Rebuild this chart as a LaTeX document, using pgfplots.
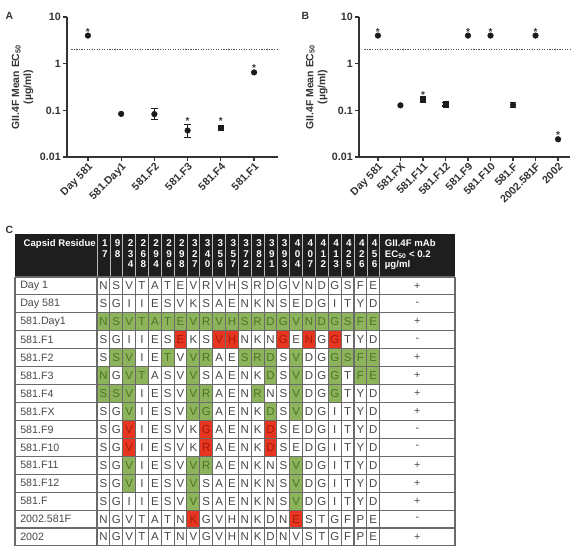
\documentclass[border=0pt]{standalone}
\usepackage{fontspec}
\setmainfont{Liberation Sans}
\usepackage{pgfplots}
\pgfplotsset{compat=1.18}
\definecolor{hdr}{HTML}{1E1E1E}
\definecolor{gfill}{HTML}{8DB35B}
\definecolor{gtext}{HTML}{4A7528}
\definecolor{rfill}{HTML}{E8351F}
\definecolor{rtext}{HTML}{A31C0E}
\definecolor{ctext}{HTML}{474747}
\definecolor{gridc}{HTML}{6A6A6A}
\definecolor{axc}{HTML}{333333}
\definecolor{mk}{HTML}{1C1C1C}
\newcommand{\tickfont}{\bfseries\fontsize{8}{9}\selectfont}
\tikzset{
  cellw/.style={text=ctext},
  cellg/.style={fill=gfill, text=gtext},
  cellr/.style={fill=rfill, text=rtext},
}
\begin{document}
\begin{tikzpicture}
\path[use as bounding box] (0,0) rectangle (429pt,-410.25pt);

% ---------- Panel A ----------
\begin{axis}[
    at={(50.25pt,-117.75pt)}, anchor=south west,
    scale only axis, width=158.25pt, height=105pt,
    ymode=log, ymin=0.01, ymax=10,
    ytick={0.01,0.1,1,10}, yticklabels={0.01,0.1,1,10},
    yminorticks=false,
    axis x line*=bottom, axis y line*=left,
    axis line style={-, axc, line width=0.9pt},
    tick style={axc, line width=0.9pt},
    tick align=outside, major tick length=3pt,
    xticklabel style={rotate=45, anchor=north east, inner sep=0.5pt, font=\tickfont, text=axc},
    yticklabel style={font=\tickfont, text=axc, inner sep=1.5pt},
    ylabel={GII.4F Mean EC\textsubscript{50}\\(µg/ml)},
    ylabel style={at={(axis description cs:-0.21,0.5)}, anchor=center, align=center, font=\bfseries\fontsize{7.8}{9}\selectfont, text=axc},
    clip=false,
    xmin=-0.63, xmax=5.72,
    xtick={0,...,5}, xticklabels={Day 581,581.Day1,581.F2,581.F3,581.F4,581.F1}]
\addplot[densely dotted, line width=0.9pt, color=axc!85, forget plot] coordinates {(-0.5,2) (5.72,2)};
\addplot[only marks, mark=*, mark size=2.1pt, color=mk] coordinates {(0,4) (1,0.084) (5,0.65)};
\addplot[only marks, mark=*, mark size=2.1pt, color=mk,
  error bars/y dir=both, error bars/y explicit,
  error bars/error bar style={line width=0.8pt, mk},
  error bars/error mark options={rotate=90, mark size=2.5pt, line width=0.8pt, mk}]
  coordinates {(2,0.083) += (0,0.027) -= (0,0.018) (3,0.037) += (0,0.012) -= (0,0.011)};
\addplot[only marks, mark=square*, mark size=2pt, color=mk,
  error bars/y dir=both, error bars/y explicit,
  error bars/error bar style={line width=0.8pt, mk},
  error bars/error mark options={rotate=90, mark size=2.5pt, line width=0.8pt, mk}]
  coordinates {(4,0.043) += (0,0.005) -= (0,0.004)};
\addplot[only marks, mark=none, nodes near coords={*},
  every node near coord/.append style={anchor=center, inner sep=0pt, font=\bfseries\fontsize{7.5}{8}\selectfont, text=axc}]
  coordinates {(0,4.77) (3,0.0591) (4,0.0591) (5,0.807)};
\end{axis}

% ---------- Panel B ----------
\begin{axis}[
    at={(269.25pt,-117.75pt)}, anchor=south west,
    scale only axis, width=158.25pt, height=105pt,
    ymode=log, ymin=0.01, ymax=10,
    ytick={0.01,0.1,1,10}, yticklabels={0.01,0.1,1,10},
    yminorticks=false,
    axis x line*=bottom, axis y line*=left,
    axis line style={-, axc, line width=0.9pt},
    tick style={axc, line width=0.9pt},
    tick align=outside, major tick length=3pt,
    xticklabel style={rotate=45, anchor=north east, inner sep=0.5pt, font=\tickfont, text=axc},
    yticklabel style={font=\tickfont, text=axc, inner sep=1.5pt},
    ylabel={GII.4F Mean EC\textsubscript{50}\\(µg/ml)},
    ylabel style={at={(axis description cs:-0.2,0.5)}, anchor=center, align=center, font=\bfseries\fontsize{7.8}{9}\selectfont, text=axc},
    clip=false,
    xmin=-0.84, xmax=8.53,
    xtick={0,...,8}, xticklabels={Day 581,581.FX,581.F11,581.F12,581.F9,581.F10,581.F,2002.581F,2002}]
\addplot[densely dotted, line width=0.9pt, color=axc!85, forget plot] coordinates {(-0.6,2) (8.53,2)};
\addplot[only marks, mark=*, mark size=2.1pt, color=mk] coordinates {(0,4) (1,0.128) (4,4) (5,4) (7,4) (8,0.024)};
\addplot[only marks, mark=square*, mark size=2pt, color=mk,
  error bars/y dir=both, error bars/y explicit,
  error bars/error bar style={line width=0.8pt, mk},
  error bars/error mark options={rotate=90, mark size=2.5pt, line width=0.8pt, mk}]
  coordinates {(2,0.173) += (0,0.018) -= (0,0.016) (3,0.135) += (0,0.012) -= (0,0.011)};
\addplot[only marks, mark=*, mark size=2.1pt, color=mk,
  error bars/y dir=both, error bars/y explicit,
  error bars/error bar style={line width=0.8pt, mk},
  error bars/error mark options={rotate=90, mark size=2.5pt, line width=0.8pt, mk}]
  coordinates {(6,0.13) += (0,0.017) -= (0,0.015)};
\addplot[only marks, mark=none, nodes near coords={*},
  every node near coord/.append style={anchor=center, inner sep=0pt, font=\bfseries\fontsize{7.5}{8}\selectfont, text=axc}]
  coordinates {(0,4.77) (2,0.213) (4,4.77) (5,4.77) (7,4.77) (8,0.0296)};
\end{axis}

% ---------- Panel C (table) ----------
\begin{scope}[x=0.75pt,y=-0.75pt]
\def\N{97}\def\W{12.85}\def\R{455}\def\H{17.93}
\node[anchor=base west, font=\bfseries\fontsize{7.8}{8}\selectfont, text=axc] at (1,19) {A};
\node[anchor=base west, font=\bfseries\fontsize{7.8}{8}\selectfont, text=axc] at (297,19) {B};
\node[anchor=base west, font=\bfseries\fontsize{7.8}{8}\selectfont, text=axc] at (1,233) {C};
% header
\fill[hdr] (15,234) rectangle (\R,277);
\node[anchor=base west, text=white, font=\bfseries\fontsize{7.2}{8}\selectfont] at (19,246.5) {Capsid Residue};
\foreach \a/\b/\c [count=\i] in {1/7/{},9/8/{},2/3/4,2/6/8,2/9/4,2/9/6,2/9/8,3/2/7,3/4/0,3/5/6,3/5/7,3/7/2,3/8/2,3/9/1,3/9/3,4/0/4,4/0/7,4/1/2,4/1/3,4/2/5,4/2/6,4/5/6}{
  \node[anchor=base east, inner sep=0pt, text=white, font=\bfseries\fontsize{7.4}{8}\selectfont] at ({\N+\W*\i-2},246.5) {\a};
  \node[anchor=base east, inner sep=0pt, text=white, font=\bfseries\fontsize{7.4}{8}\selectfont] at ({\N+\W*\i-2},257) {\b};
  \node[anchor=base east, inner sep=0pt, text=white, font=\bfseries\fontsize{7.4}{8}\selectfont] at ({\N+\W*\i-2},267.5) {\c};
}
\foreach \k in {0,...,22}{\draw[gray!55, line width=0.5pt] ({\N+\W*\k},234) -- ({\N+\W*\k},277);}
\node[anchor=base west, inner sep=0pt, text=white, font=\bfseries\fontsize{7.2}{8}\selectfont] at ({\N+\W*22+5},246.5) {GII.4F mAb};
\node[anchor=base west, inner sep=0pt, text=white, font=\bfseries\fontsize{7.2}{8}\selectfont] at ({\N+\W*22+5},257) {EC\textsubscript{50} < 0.2};
\node[anchor=base west, inner sep=0pt, text=white, font=\bfseries\fontsize{7.2}{8}\selectfont] at ({\N+\W*22+5},267.5) {µg/ml};
% rows
\foreach \name/\sym/\cells [count=\r from 0] in {%
 {Day 1}/+/{N/w,S/w,V/w,T/w,A/w,T/w,E/w,V/w,R/w,V/w,H/w,S/w,R/w,D/w,G/w,V/w,N/w,D/w,G/w,S/w,F/w,E/w},%
 {Day 581}/-/{S/w,G/w,I/w,I/w,E/w,S/w,V/w,K/w,S/w,A/w,E/w,N/w,K/w,N/w,S/w,E/w,D/w,G/w,I/w,T/w,Y/w,D/w},%
 {581.Day1}/+/{N/g,S/g,V/g,T/g,A/g,T/g,E/g,V/g,R/g,V/g,H/g,S/g,R/g,D/g,G/g,V/g,N/g,D/g,G/g,S/g,F/g,E/g},%
 {581.F1}/-/{S/w,G/w,I/w,I/w,E/w,S/w,E/r,K/w,S/w,V/r,H/r,N/w,K/w,N/w,G/r,E/w,N/r,G/w,G/r,T/w,Y/w,D/w},%
 {581.F2}/+/{S/w,S/g,V/g,I/w,E/w,T/g,V/w,V/g,R/g,A/w,E/w,S/g,R/g,D/g,S/w,V/g,D/w,G/w,G/g,S/g,F/g,E/g},%
 {581.F3}/+/{N/g,G/w,V/g,T/g,A/w,S/w,V/w,V/g,S/w,A/w,E/w,N/w,K/w,D/g,S/w,V/g,D/w,G/w,G/g,T/w,F/g,E/g},%
 {581.F4}/+/{S/g,S/g,V/g,I/w,E/w,S/w,V/w,V/g,R/g,A/w,E/w,N/w,R/g,N/w,S/w,V/g,D/w,G/w,G/g,T/w,Y/w,D/w},%
 {581.FX}/+/{S/w,G/w,V/g,I/w,E/w,S/w,V/w,V/g,G/g,A/w,E/w,N/w,K/w,D/g,S/w,V/g,D/w,G/w,I/w,T/w,Y/w,D/w},%
 {581.F9}/-/{S/w,G/w,V/r,I/w,E/w,S/w,V/w,K/w,G/r,A/w,E/w,N/w,K/w,D/r,S/w,E/w,D/w,G/w,I/w,T/w,Y/w,D/w},%
 {581.F10}/-/{S/w,G/w,V/r,I/w,E/w,S/w,V/w,K/w,R/r,A/w,E/w,N/w,K/w,D/r,S/w,E/w,D/w,G/w,I/w,T/w,Y/w,D/w},%
 {581.F11}/+/{S/w,G/w,V/g,I/w,E/w,S/w,V/w,V/g,R/g,A/w,E/w,N/w,K/w,N/w,S/w,V/g,D/w,G/w,I/w,T/w,Y/w,D/w},%
 {581.F12}/+/{S/w,G/w,V/g,I/w,E/w,S/w,V/w,V/g,S/w,A/w,E/w,N/w,K/w,N/w,S/w,V/g,D/w,G/w,I/w,T/w,Y/w,D/w},%
 {581.F}/+/{S/w,G/w,I/w,I/w,E/w,S/w,V/w,V/g,S/w,A/w,E/w,N/w,K/w,N/w,S/w,V/g,D/w,G/w,I/w,T/w,Y/w,D/w},%
 {2002.581F}/-/{N/w,G/w,V/w,T/w,A/w,T/w,N/w,K/r,G/w,V/w,H/w,N/w,K/w,D/w,N/w,E/r,S/w,T/w,G/w,F/w,P/w,E/w},%
 {2002}/+/{N/w,G/w,V/w,T/w,A/w,T/w,N/w,V/w,G/w,V/w,H/w,N/w,K/w,D/w,N/w,V/w,S/w,T/w,G/w,F/w,P/w,E/w}%
}{
  \node[anchor=west, inner sep=0pt, text=ctext, font=\fontsize{8}{9}\selectfont] at (20,{277+\H*(\r+0.5)}) {\name};
  \foreach \l/\k [count=\i] in \cells {
    \node[cell\k, minimum width={\W*0.75pt}, minimum height={\H*0.75pt}, inner sep=0pt, font=\fontsize{8.6}{9}\selectfont] at ({\N+\W*(\i-0.5)},{277+\H*(\r+0.5)}) {\l};
  }
  \node[inner sep=0pt, text=ctext, font=\fontsize{8}{9}\selectfont] at ({(\N+\W*22+\R)/2},{277+\H*(\r+0.5)}) {\sym};
}
% grid
\foreach \r in {0,...,15}{\draw[gridc, line width=0.8pt] (15,{277+\H*\r}) -- (\R,{277+\H*\r});}
\draw[gridc, line width=0.8pt] (15,277) -- (15,546) (\R,277) -- (\R,546) (\N,277) -- (\N,546);
\foreach \k in {1,...,22}{\draw[gridc, line width=0.8pt] ({\N+\W*\k},277) -- ({\N+\W*\k},546);}
\end{scope}
\end{tikzpicture}
\end{document}
